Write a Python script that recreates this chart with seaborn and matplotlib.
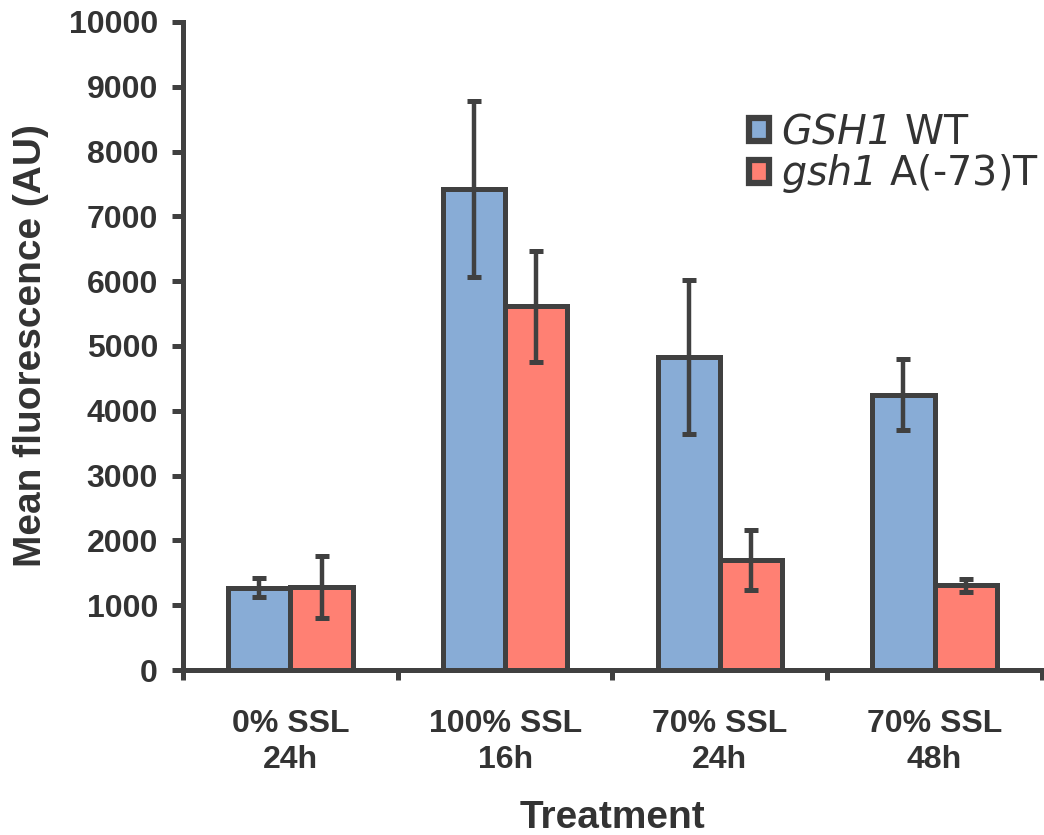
import matplotlib
matplotlib.use("Agg")
import matplotlib.pyplot as plt
from matplotlib.patches import Patch
import numpy as np
import pandas as pd
import seaborn as sns

# Treatment groups and mean fluorescence (AU) with error (±)
treatments = ["0% SSL\n24h", "100% SSL\n16h", "70% SSL\n24h", "70% SSL\n48h"]
strains = ["GSH1 WT", "gsh1 A(-73)T"]
wt_mean = [1270, 7420, 4830, 4250]
wt_err = [150, 1360, 1190, 550]
mut_mean = [1280, 5610, 1700, 1310]
mut_err = [480, 860, 460, 100]

colors = ["#88ACD6", "#FF8073"]
edge = "#404040"

df = pd.DataFrame({
    "Treatment": treatments * 2,
    "Strain": [strains[0]] * 4 + [strains[1]] * 4,
    "Mean": wt_mean + mut_mean,
    "Err": wt_err + mut_err,
})

sns.set_style("white")
plt.rcParams["font.family"] = ["Liberation Sans", "DejaVu Sans"]
# italic gene names (digits included) in the legend
plt.rcParams["mathtext.fontset"] = "custom"
plt.rcParams["mathtext.rm"] = "DejaVu Sans:italic"
plt.rcParams["mathtext.it"] = "DejaVu Sans:italic"

fig = plt.figure(figsize=(10.44, 8.35), dpi=100)
ax = fig.add_axes([0.1753, 0.1976, 0.8227, 0.7761])

sns.barplot(data=df, x="Treatment", y="Mean", hue="Strain", order=treatments,
            hue_order=strains, palette=colors, saturation=1, errorbar=None,
            width=0.58, edgecolor=edge, linewidth=3.6, legend=False, ax=ax)

# error bars centred on each drawn bar
for container, (_, sub) in zip(ax.containers, df.groupby("Strain", sort=False)):
    sub = sub.set_index("Treatment").loc[treatments]
    xs = [p.get_x() + p.get_width() / 2 for p in container.patches]
    ax.errorbar(xs, sub["Mean"].values, yerr=sub["Err"].values, fmt="none",
                ecolor=edge, elinewidth=3.2, capsize=5, capthick=3.6, zorder=5)

ax.set_xlim(-0.5, 3.5)
ax.set_ylim(0, 10000)
ax.set_yticks(np.arange(0, 10001, 1000))
ax.set_yticklabels([str(v) for v in range(0, 10001, 1000)],
                   fontsize=23, fontweight="bold", color="#333333")

# category labels at centres, tick marks at boundaries
ax.set_xticks(np.arange(-0.5, 3.6, 1.0))
ax.set_xticklabels([])
ax.set_xticks(np.arange(4), minor=True)
ax.set_xticklabels(treatments, minor=True, fontsize=23, fontweight="bold",
                   color="#333333", linespacing=1.25)
ax.tick_params(axis="x", which="major", direction="out", length=7, width=3.6,
               color=edge, bottom=True)
ax.tick_params(axis="x", which="minor", length=0, pad=28)
ax.tick_params(axis="y", direction="out", length=8, width=3.6, color=edge,
               left=True, pad=10)

for side in ["top", "right"]:
    ax.spines[side].set_visible(False)
for side in ["left", "bottom"]:
    ax.spines[side].set_color(edge)
    ax.spines[side].set_linewidth(3.6)

ax.set_xlabel("Treatment", fontsize=28, fontweight="bold", color="#333333",
              labelpad=18)
ax.set_ylabel("Mean fluorescence (AU)", fontsize=28, fontweight="bold",
              color="#333333", labelpad=14)

handles = [Patch(facecolor=c, edgecolor=edge, linewidth=4.5) for c in colors]
labels = [r"$GSH1$ WT", r"$gsh1$ A(-73)T"]
leg = ax.legend(handles, labels, loc="upper left",
                bbox_to_anchor=(0.641, 0.885), frameon=False,
                prop={"family": "DejaVu Sans", "size": 28.5},
                handlelength=0.5, handleheight=0.5, handletextpad=0.3,
                labelspacing=0.0, borderaxespad=0)
for t in leg.get_texts():
    t.set_color("#333333")

fig.savefig("out.png", dpi=100, facecolor="white")
